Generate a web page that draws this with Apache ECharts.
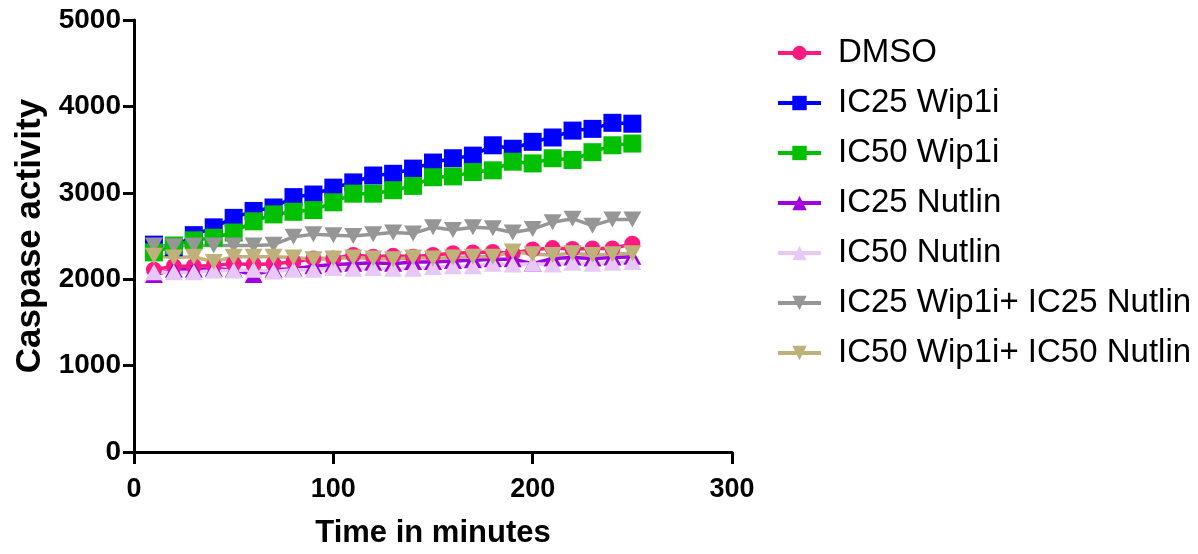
<!DOCTYPE html>
<html>
<head>
<meta charset="utf-8">
<title>Caspase activity</title>
<script src="https://cdn.jsdelivr.net/npm/echarts@6/dist/echarts.min.js"></script>
<style>
  html, body { margin: 0; padding: 0; background: #ffffff; }
  #chart { width: 1198px; height: 554px; }
</style>
</head>
<body>
<div id="chart"></div>
<script>
// Time points (minutes)
const timeMinutes = [10, 20, 30, 40, 50, 60, 70, 80, 90, 100, 110, 120, 130,
                     140, 150, 160, 170, 180, 190, 200, 210, 220, 230, 240, 250];

// Caspase activity per treatment
const dmso = [2110, 2150, 2150, 2160, 2180, 2170, 2180, 2200, 2240, 2240, 2280, 2260, 2270,
              2260, 2280, 2300, 2310, 2315, 2300, 2345, 2360, 2350, 2355, 2355, 2410];
const ic25Wip1i = [2400, 2370, 2510, 2600, 2710, 2790, 2830, 2950, 2980, 3060, 3120, 3200, 3220,
                   3280, 3350, 3400, 3430, 3550, 3510, 3590, 3640, 3720, 3740, 3810, 3800];
const ic50Wip1i = [2310, 2390, 2450, 2480, 2540, 2670, 2750, 2780, 2800, 2890, 2990, 2990, 3030,
                   3080, 3180, 3190, 3240, 3260, 3360, 3340, 3400, 3380, 3470, 3550, 3570];
const ic25Nutlin = [2050, 2110, 2110, 2120, 2110, 2050, 2110, 2120, 2150, 2170, 2180, 2190, 2180,
                    2200, 2200, 2210, 2220, 2230, 2230, 2180, 2240, 2250, 2240, 2250, 2260];
const ic50Nutlin = [2080, 2080, 2080, 2100, 2100, 2110, 2090, 2110, 2110, 2130, 2120, 2130, 2120,
                    2120, 2140, 2150, 2150, 2180, 2170, 2180, 2170, 2190, 2180, 2190, 2200];
const ic25Combo = [2390, 2380, 2390, 2390, 2390, 2390, 2400, 2490, 2520, 2510, 2500, 2520, 2540,
                   2530, 2600, 2570, 2600, 2590, 2540, 2580, 2660, 2700, 2620, 2690, 2690];
const ic50Combo = [2270, 2250, 2260, 2200, 2260, 2260, 2260, 2250, 2230, 2240, 2250, 2240, 2230,
                   2250, 2240, 2250, 2260, 2260, 2320, 2290, 2280, 2300, 2280, 2290, 2300];

// Axis ticks
const xTicks = [0, 100, 200, 300];
const yTicks = [0, 1000, 2000, 3000, 4000, 5000];

const FONT = '"Liberation Sans", Arial, Helvetica, sans-serif';

function pairs(values) {
  return timeMinutes.map((t, i) => [t, values[i]]);
}

function lineSeries(name, values, color, symbol, size, rotate) {
  return {
    name: name,
    type: 'line',
    data: pairs(values),
    symbol: symbol,
    symbolSize: size,
    symbolRotate: rotate || 0,
    showAllSymbol: true,
    lineStyle: { color: color, width: 3.5 },
    itemStyle: { color: color, borderWidth: 0 },
    emphasis: { disabled: true },
    animation: false
  };
}

const chart = echarts.init(document.getElementById('chart'), null, { renderer: 'canvas' });

chart.setOption({
  backgroundColor: '#ffffff',
  animation: false,
  grid: { left: 134, right: 466, top: 20, bottom: 101, containLabel: false },
  xAxis: {
    type: 'value',
    min: xTicks[0],
    max: xTicks[xTicks.length - 1],
    interval: 100,
    name: 'Time in minutes',
    nameLocation: 'middle',
    nameGap: 66,
    nameTextStyle: { fontFamily: FONT, fontWeight: 'bold', fontSize: 31, color: '#000' },
    axisLine: { show: true, onZero: false, lineStyle: { color: '#000', width: 3 } },
    axisTick: { show: true, inside: false, length: 12, lineStyle: { color: '#000', width: 3 } },
    axisLabel: { fontFamily: FONT, fontWeight: 'bold', fontSize: 27, color: '#000', margin: 24,
                 formatter: v => String(v) },
    splitLine: { show: false }
  },
  yAxis: {
    type: 'value',
    min: yTicks[0],
    max: yTicks[yTicks.length - 1],
    interval: 1000,
    name: 'Caspase activity',
    nameLocation: 'middle',
    nameGap: 86,
    nameTextStyle: { fontFamily: FONT, fontWeight: 'bold', fontSize: 35, color: '#000' },
    axisLine: { show: true, onZero: false, lineStyle: { color: '#000', width: 3 } },
    axisTick: { show: true, inside: false, length: 11, lineStyle: { color: '#000', width: 3 } },
    axisLabel: { fontFamily: FONT, fontWeight: 'bold', fontSize: 28, color: '#000', margin: 13,
                 formatter: v => String(v) },
    splitLine: { show: false }
  },
  legend: {
    orient: 'vertical',
    left: 771,
    top: 31,
    itemWidth: 43,
    itemHeight: 18,
    itemGap: 16,
    selectedMode: false,
    lineStyle: { width: 4 },
    textStyle: { fontFamily: FONT, fontSize: 33, color: '#000', lineHeight: 34, padding: [0, 0, 0, 12] },
    data: ['DMSO', 'IC25 Wip1i', 'IC50 Wip1i', 'IC25 Nutlin', 'IC50 Nutlin',
           'IC25 Wip1i+ IC25 Nutlin', 'IC50 Wip1i+ IC50 Nutlin']
  },
  series: [
    lineSeries('DMSO', dmso, '#FF1A80', 'circle', 16),
    lineSeries('IC25 Wip1i', ic25Wip1i, '#0000FF', 'rect', 18),
    lineSeries('IC50 Wip1i', ic50Wip1i, '#00C000', 'rect', 18),
    lineSeries('IC25 Nutlin', ic25Nutlin, '#A000E0', 'triangle', [18, 16]),
    lineSeries('IC50 Nutlin', ic50Nutlin, '#E8C8F6', 'triangle', [18, 16]),
    lineSeries('IC25 Wip1i+ IC25 Nutlin', ic25Combo, '#969696', 'triangle', [18, 16], 180),
    lineSeries('IC50 Wip1i+ IC50 Nutlin', ic50Combo, '#BEB27A', 'triangle', [18, 16], 180)
  ]
});
</script>
</body>
</html>
